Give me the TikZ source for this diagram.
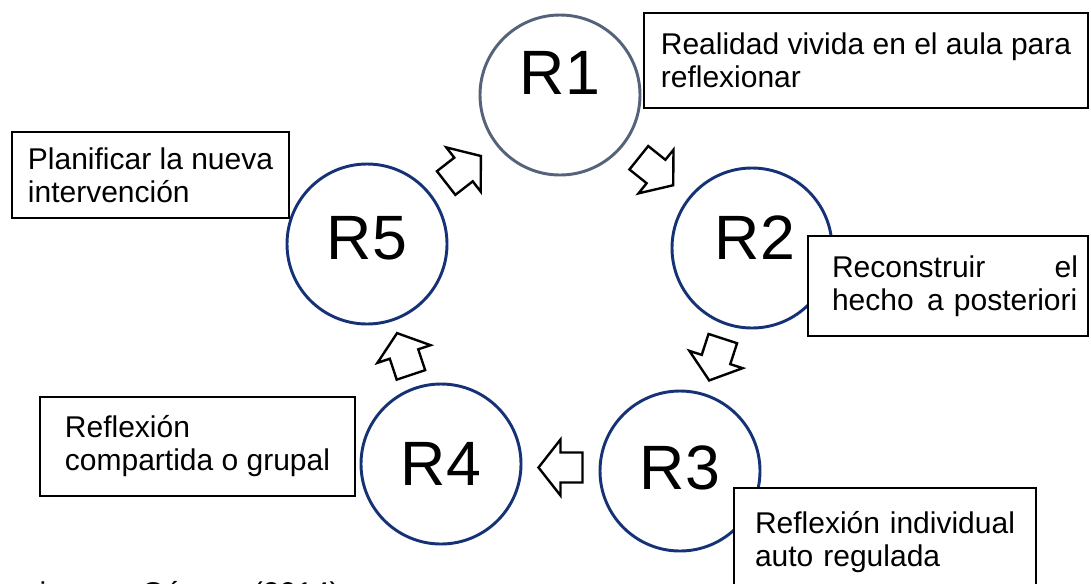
\documentclass[tikz,border=0pt]{standalone}
\usepackage{fontspec}
\setmainfont{Liberation Sans}
\usetikzlibrary{calc}
\newlength\pxu
\setlength\pxu{0.75pt}
\definecolor{ringgray}{RGB}{84,98,122}
\definecolor{ringblue}{RGB}{22,50,118}

\begin{document}
\begin{tikzpicture}[x=0.75pt,y=-0.75pt,
  ring/.style={circle, draw=ringblue, line width=2.2pt, minimum size=160\pxu, inner sep=0pt},
  rtext/.style={font=\fontsize{47}{50}\selectfont, inner sep=0pt},
  note/.style={draw=black, fill=white, line width=1.9pt,
    font=\fontsize{22.5}{24.75}\selectfont, inner sep=0pt, align=left},
  blockarrow/.pic={
    \draw[line width=1.8pt, line join=miter, fill=white]
      (-22,-15) -- (0,-15) -- (0,-28) -- (22,0) -- (0,28) -- (0,15) -- (-22,15) -- cycle;}
]
\fill[white] (0,0) rectangle (1091,583);
\path[use as bounding box, clip] (0,0) rectangle (1091,583);

% the five stages of the cycle
\node[ring, draw=ringgray] (r1) at (560,95) {};
\node[ring] (r2) at (752,248) {};
\node[ring] (r3) at (680,471) {};
\node[ring] (r4) at (441,464) {};
\node[ring] (r5) at (367,244) {};

\node[rtext] (t1) at ([yshift=22\pxu]r1.center) {R1};
\node[rtext] (t2) at ([yshift=10\pxu,xshift=3\pxu]r2.center) {R2};
\node[rtext] (t3) at ([yshift=3\pxu]r3.center) {R3};
\node[rtext] (t4) at (r4.center) {R4};
\node[rtext] (t5) at ([yshift=6\pxu]r5.center) {R5};

% hollow block arrows between consecutive stages
\pic[rotate=37.9]  at ($(r5)!0.5!(r1)$) {blockarrow};
\pic[rotate=-38.7] at ($(r1)!0.5!(r2)$) {blockarrow};
\pic[rotate=-108]  at ($(r2)!0.5!(r3)$) {blockarrow};
\pic[rotate=180]   at ($(r3)!0.5!(r4)$) {blockarrow};
\pic[rotate=108.4] at ($(r4)!0.5!(r5)$) {blockarrow};

% description boxes
\node[note, minimum width=444\pxu, minimum height=95\pxu] (n1) at (866,60.5)
  {Realidad vivida en el aula para\\reflexionar};
\node[note, minimum width=280\pxu, minimum height=100\pxu, text width=260\pxu] (n2) at (948,286)
  {\hspace*{14\pxu}Reconstruir\hfill el\\\hspace*{14\pxu}\mbox{hecho\hspace{0.45em}a posteriori}};
\node[note, minimum width=302\pxu, minimum height=108\pxu, text width=260\pxu] (n3) at (885,542)
  {Reflexión\hfill individual\\auto regulada};
\node[note, minimum width=315\pxu, minimum height=99\pxu] (n4) at (197.5,446.5)
  {Reflexión\\compartida o grupal};
\node[note, minimum width=277\pxu, minimum height=86\pxu] (n5) at (150.5,175)
  {Planificar la nueva\\intervención};

% source line
\node[anchor=base west, inner sep=0pt, font=\fontsize{22.5}{24}\selectfont] (src) at (-24,603)
  {\spaceskip=0.5em Domingo y Gómez (2014)};
\end{tikzpicture}
\end{document}
